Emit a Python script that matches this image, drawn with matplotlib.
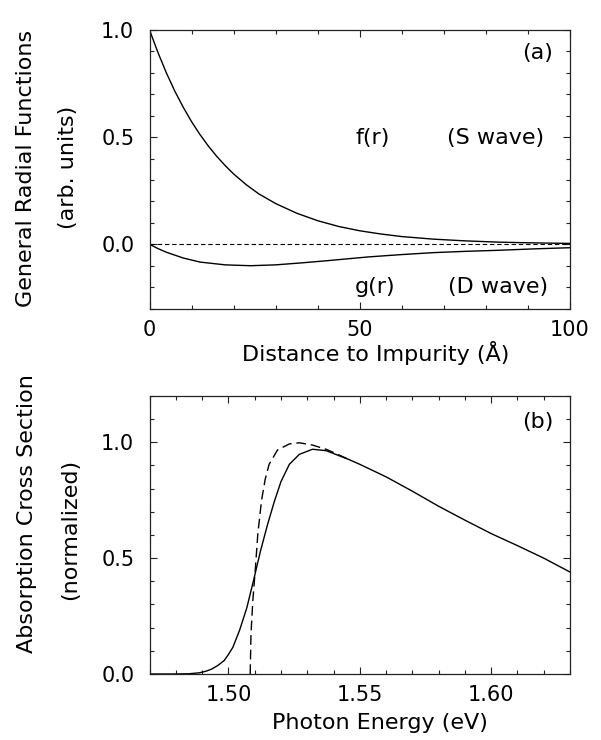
import matplotlib
matplotlib.use("Agg")
import matplotlib.pyplot as plt
from matplotlib.ticker import MultipleLocator, FormatStrFormatter

plt.rcParams['font.family'] = ['DejaVu Sans']
plt.rcParams['font.size'] = 16

# panel (a): radial functions vs distance (A)
r_f = [0, 2, 4, 6, 8, 10, 12, 14, 16, 18, 20, 23, 26, 30, 35, 40, 45, 50, 55, 60, 67.5, 75, 83, 90, 100]
f_vals = [1.0, 0.895, 0.80, 0.715, 0.64, 0.572, 0.512, 0.458, 0.41, 0.367, 0.328, 0.278, 0.235,
          0.19, 0.145, 0.11, 0.083, 0.063, 0.048, 0.036, 0.024, 0.016, 0.010, 0.007, 0.004]
r_g = [0, 2, 4, 8, 12, 18, 24, 30, 36, 42, 52, 60, 67.5, 75, 83, 92, 100]
g_vals = [0.0, -0.02, -0.037, -0.064, -0.083, -0.096, -0.100, -0.096, -0.087, -0.077, -0.059,
          -0.048, -0.039, -0.033, -0.028, -0.021, -0.016]

# panel (b): absorption cross section vs photon energy (eV)
e_solid = [1.47, 1.48, 1.485, 1.4889, 1.4915, 1.4938, 1.496, 1.4984, 1.5, 1.5017, 1.5043, 1.507,
           1.5096, 1.5122, 1.5149, 1.5175, 1.520, 1.5232, 1.527, 1.532, 1.5372, 1.546, 1.55,
           1.56, 1.57, 1.58, 1.59, 1.60, 1.61, 1.62, 1.63]
s_solid = [0.0, 0.0, 0.001, 0.005, 0.012, 0.022, 0.037, 0.058, 0.084, 0.115, 0.19, 0.285, 0.405,
           0.53, 0.645, 0.745, 0.83, 0.905, 0.948, 0.97, 0.964, 0.925, 0.905, 0.851, 0.789,
           0.724, 0.664, 0.606, 0.554, 0.50, 0.44]
e_dash = [1.5083, 1.5086, 1.5093, 1.5103, 1.5112, 1.5126, 1.514, 1.5155, 1.5187, 1.5232, 1.527,
          1.532, 1.5372, 1.542, 1.546]
s_dash = [0.0, 0.172, 0.316, 0.46, 0.604, 0.748, 0.84, 0.905, 0.967, 0.993, 0.998, 0.988, 0.97,
          0.946, 0.925]

fig = plt.figure(figsize=(6.01, 7.40), dpi=100)
ax1 = fig.add_axes([0.2488, 0.5830, 0.6997, 0.3765])
ax2 = fig.add_axes([0.2488, 0.0892, 0.6997, 0.3757])

ax1.plot(r_f, f_vals, color='black', lw=1.0)
ax1.plot(r_g, g_vals, color='black', lw=1.0)
ax1.axhline(0.0, color='black', lw=0.8, linestyle=(0, (4, 2.5)))
ax1.set_xlim(0, 100)
ax1.set_ylim(-0.3, 1.0)
ax1.xaxis.set_major_locator(MultipleLocator(50))
ax1.xaxis.set_minor_locator(MultipleLocator(10))
ax1.yaxis.set_major_locator(MultipleLocator(0.5))
ax1.yaxis.set_minor_locator(MultipleLocator(0.1))
ax1.yaxis.set_major_formatter(FormatStrFormatter('%.1f'))

ax2.plot(e_solid, s_solid, color='black', lw=1.0)
ax2.plot(e_dash, s_dash, color='black', lw=1.0, linestyle=(0, (7, 3.5)))
ax2.set_xlim(1.47, 1.63)
ax2.set_ylim(0, 1.2)
ax2.xaxis.set_major_locator(MultipleLocator(0.05))
ax2.xaxis.set_minor_locator(MultipleLocator(0.01))
ax2.xaxis.set_major_formatter(FormatStrFormatter('%.2f'))
ax2.yaxis.set_major_locator(MultipleLocator(0.5))
ax2.yaxis.set_minor_locator(MultipleLocator(0.1))
ax2.yaxis.set_major_formatter(FormatStrFormatter('%.1f'))

for ax in (ax1, ax2):
    for s in ax.spines.values():
        s.set_linewidth(0.9)
        s.set_color('#222222')
    ax.tick_params(which='both', direction='in', top=True, right=True, width=0.8, color='#222222')
    ax.tick_params(which='major', length=5)
    ax.tick_params(which='minor', length=3)
    ax.tick_params(axis='y', which='major', pad=11, labelsize=15)
    ax.tick_params(axis='x', which='major', pad=8, labelsize=15)

# annotations
fig.text(537.5 / 601, 1 - 53 / 740, '(a)', ha='center', va='center')
fig.text(537.5 / 601, 1 - 422 / 740, '(b)', ha='center', va='center')
fig.text(355 / 601, 1 - 138 / 740, 'f(r)', ha='left', va='center')
fig.text(544 / 601, 1 - 138 / 740, '(S wave)', ha='right', va='center')
fig.text(355 / 601, 1 - 287 / 740, 'g(r)', ha='left', va='center')
fig.text(548 / 601, 1 - 287 / 740, '(D wave)', ha='right', va='center')

# axis labels
fig.text(376 / 601, 1 - 361 / 740, 'Distance to Impurity (Å)', ha='center', va='baseline')
fig.text(380 / 601, 1 - 729 / 740, 'Photon Energy (eV)', ha='center', va='baseline')
fig.text(26 / 601, 1 - 168 / 740, 'General Radial Functions', rotation=90, ha='center', va='center')
fig.text(68 / 601, 1 - 167 / 740, '(arb. units)', rotation=90, ha='center', va='center')
fig.text(27 / 601, 1 - 514 / 740, 'Absorption Cross Section', rotation=90, ha='center', va='center')
fig.text(70 / 601, 1 - 529 / 740, '(normalized)', rotation=90, ha='center', va='center')

fig.savefig('out.png', dpi=100)
